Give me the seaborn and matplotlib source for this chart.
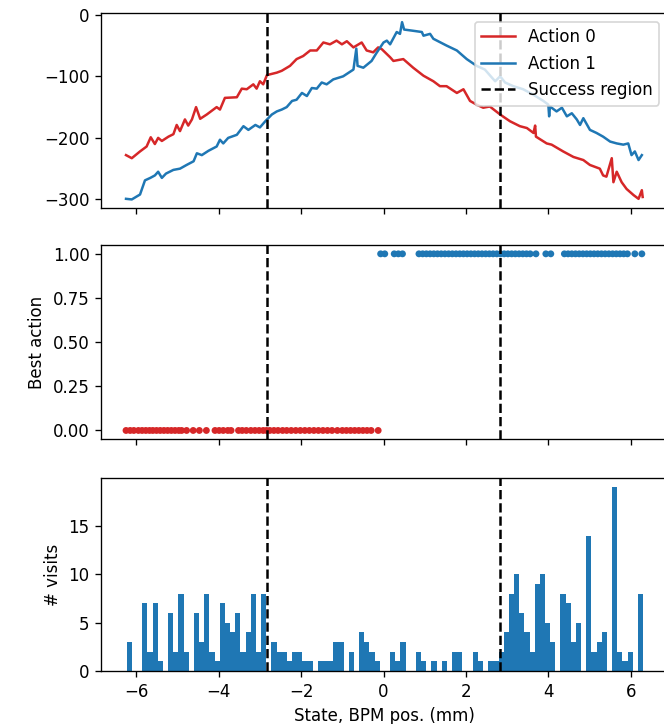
import matplotlib
matplotlib.use("Agg")
import matplotlib.pyplot as plt
import numpy as np
import pandas as pd
import seaborn as sns

# --- Q-values per action along the BPM position ---------------------------
q0_state = [-6.25, -6.11, -5.91, -5.75, -5.65, -5.55, -5.47, -5.38, -5.22, -5.10,
            -5.02, -4.94, -4.82, -4.74, -4.65, -4.55, -4.45, -4.29, -4.05, -3.97,
            -3.85, -3.56, -3.44, -3.32, -3.16, -3.08, -3.00, -2.92, -2.83, -2.59,
            -2.47, -2.27, -2.11, -1.95, -1.78, -1.62, -1.46, -1.30, -1.14, -1.01,
            -0.89, -0.73, -0.53, -0.41, -0.25, -0.13, -0.04, 0.16, 0.24, 0.48,
            0.72, 0.97, 1.21, 1.37, 1.53, 1.78, 1.94, 2.10, 2.26, 2.42,
            2.58, 2.83, 3.07, 3.31, 3.48, 3.64, 3.68, 3.70, 3.96, 4.08,
            4.36, 4.61, 4.85, 5.01, 5.25, 5.33, 5.41, 5.54, 5.58, 5.66,
            5.78, 5.90, 6.07, 6.19, 6.27, 6.29]
q0_value = [-228, -233, -222, -214, -199, -210, -200, -205, -198, -194,
            -179, -189, -170, -180, -170, -150, -169, -162, -150, -154,
            -135, -134, -120, -121, -113, -120, -108, -113, -98, -94,
            -91, -83, -72, -67, -58, -58, -45, -48, -42, -48,
            -43, -53, -45, -58, -61, -53, -56, -69, -75, -72,
            -86, -99, -108, -116, -116, -127, -121, -140, -146, -151,
            -149, -162, -173, -181, -184, -192, -180, -198, -209, -211,
            -222, -231, -236, -244, -250, -261, -263, -233, -272, -255,
            -272, -283, -293, -299, -285, -296]

q1_state = [-6.25, -6.11, -5.91, -5.79, -5.66, -5.55, -5.47, -5.38, -5.28, -5.10,
            -4.94, -4.78, -4.61, -4.53, -4.41, -4.25, -4.05, -3.97, -3.89, -3.77,
            -3.56, -3.40, -3.28, -3.11, -3.00, -2.87, -2.71, -2.59, -2.47, -2.35,
            -2.22, -2.11, -1.98, -1.86, -1.74, -1.62, -1.50, -1.38, -1.22, -0.98,
            -0.73, -0.66, -0.63, -0.49, -0.29, -0.17, 0.00, 0.08, 0.16, 0.32,
            0.40, 0.45, 0.50, 0.72, 0.93, 0.97, 1.13, 1.21, 1.53, 1.78,
            2.02, 2.26, 2.46, 2.63, 2.71, 2.83, 2.95, 3.15, 3.39, 3.64,
            3.88, 4.00, 4.02, 4.04, 4.20, 4.33, 4.45, 4.57, 4.69, 4.77,
            4.85, 5.01, 5.17, 5.33, 5.50, 5.66, 5.82, 5.94, 6.02, 6.10,
            6.19, 6.27]
q1_value = [-299, -300, -292, -269, -265, -261, -255, -265, -258, -252,
            -250, -244, -238, -225, -228, -221, -214, -203, -209, -200,
            -195, -181, -187, -179, -183, -173, -162, -157, -154, -150,
            -140, -138, -127, -132, -119, -120, -110, -113, -105, -100,
            -89, -55, -83, -86, -75, -62, -45, -42, -48, -28,
            -31, -12, -24, -26, -28, -34, -31, -39, -50, -58,
            -72, -83, -89, -102, -108, -100, -110, -116, -121, -130,
            -140, -146, -165, -149, -157, -151, -165, -160, -170, -179,
            -168, -187, -192, -198, -206, -209, -211, -209, -228, -222,
            -236, -228]

# --- visited states, grouped by greedy action --------------------------------
best0_state = [-6.25, -6.15, -6.06,
               -5.95, -5.86, -5.77, -5.68, -5.60, -5.51, -5.42, -5.33, -5.24, -5.15,
               -5.06, -4.97, -4.90, -4.78, -4.62, -4.47, -4.30,
               -4.09, -3.99, -3.89, -3.78, -3.70,
               -3.52, -3.43, -3.33, -3.22, -3.12, -3.02, -2.92, -2.84,
               -2.76, -2.66, -2.56, -2.45, -2.35, -2.24, -2.13, -2.02, -1.91, -1.80,
               -1.69, -1.58, -1.47, -1.36, -1.25, -1.12,
               -1.00, -0.90, -0.80, -0.70, -0.60, -0.50, -0.40, -0.30, -0.13]
best1_state = [-0.07, 0.03,
               0.26, 0.36, 0.46,
               0.86, 0.95, 1.04, 1.13, 1.22, 1.31, 1.40, 1.49, 1.58, 1.67, 1.76,
               1.85, 1.94, 2.03, 2.12, 2.21, 2.30, 2.39, 2.48, 2.57, 2.66, 2.75,
               2.84, 2.93, 3.02, 3.11, 3.20, 3.29, 3.38, 3.47, 3.56, 3.70,
               3.94, 4.06,
               4.39, 4.48, 4.57, 4.66, 4.75, 4.84, 4.93, 5.02, 5.11, 5.20, 5.29,
               5.38, 5.47, 5.56, 5.65, 5.74, 5.83, 5.92, 6.10, 6.27]

# --- visit histogram (100 bins) --------------------------------------------
hist_range = (-6.23, 6.30)
visit_counts = [3, 0, 0, 7, 2, 7, 1, 0, 6, 2,
                8, 2, 0, 6, 3, 8, 2, 1, 7, 5,
                4, 6, 2, 4, 8, 2, 8, 0, 3, 2,
                2, 1, 2, 2, 1, 1, 0, 1, 1, 1,
                3, 3, 0, 2, 0, 4, 3, 2, 1, 0,
                0, 2, 1, 3, 0, 0, 2, 1, 0, 1,
                0, 1, 0, 2, 2, 0, 0, 2, 1, 0,
                1, 1, 2, 4, 8, 10, 6, 4, 2, 9,
                10, 5, 3, 0, 8, 7, 3, 5, 0, 14,
                2, 3, 4, 0, 19, 2, 1, 2, 0, 8]

success_bounds = [-2.83, 2.83]

RED = "#d62728"
BLUE = "#1f77b4"

DPI = 120
W, H = 664.0, 724.0
fig = plt.figure(figsize=(W / DPI, H / DPI), dpi=DPI)
left = 101.3 / W
width = (667.8 - 101.3) / W


def box(top_px, bottom_px):
    return [left, 1 - bottom_px / H, width, (bottom_px - top_px) / H]


ax_q = fig.add_axes(box(13.3, 208.3))
ax_a = fig.add_axes(box(245.0, 439.3), sharex=ax_q)
ax_v = fig.add_axes(box(478.0, 671.0), sharex=ax_q)

# Q-values
sns.lineplot(x=q0_state, y=q0_value, ax=ax_q, color=RED, label="Action 0",
             sort=False, estimator=None, linewidth=1.5)
sns.lineplot(x=q1_state, y=q1_value, ax=ax_q, color=BLUE, label="Action 1",
             sort=False, estimator=None, linewidth=1.5)

# greedy action
best_df = pd.DataFrame({
    "state": best0_state + best1_state,
    "action": [0] * len(best0_state) + [1] * len(best1_state),
})
sns.scatterplot(data=best_df, x="state", y="action", hue="action",
                palette={0: RED, 1: BLUE}, legend=False, s=17, linewidth=0,
                ax=ax_a)
ax_a.set_ylabel("Best action")
ax_a.set_xlabel("")

# visits: counts per bin, placed at bin centres and weighted
n_bins = len(visit_counts)
bin_w = (hist_range[1] - hist_range[0]) / n_bins
visits_df = pd.DataFrame({
    "state": hist_range[0] + bin_w * (np.arange(n_bins) + 0.5),
    "count": visit_counts,
})
sns.histplot(data=visits_df, x="state", weights="count", bins=n_bins,
             binrange=hist_range, color=BLUE, alpha=1, linewidth=0, ax=ax_v)
ax_v.set_ylabel("# visits")
ax_v.set_xlabel("State, BPM pos. (mm)")

for i, ax in enumerate([ax_q, ax_a, ax_v]):
    for j, b in enumerate(success_bounds):
        ax.axvline(b, color="black", linestyle="--", linewidth=1.5,
                   label="Success region" if (i == 0 and j == 0) else None)

ax_q.set_ylabel("")
ax_q.set_xlabel("")
ax_q.legend(loc="upper right")
ax_q.tick_params(labelbottom=False)
ax_a.tick_params(labelbottom=False)
ax_q.set_xlim(-6.85, 6.9)
ax_a.set_yticks([0.0, 0.25, 0.5, 0.75, 1.0])

fig.savefig("out.png", dpi=DPI)
